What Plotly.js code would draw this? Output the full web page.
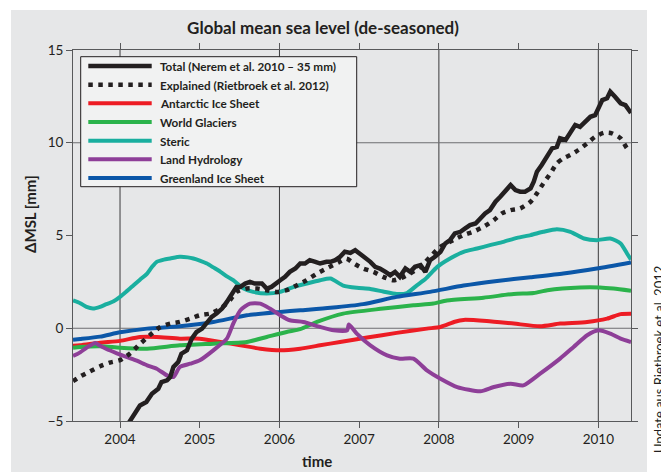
<!DOCTYPE html>
<html>
<head>
<meta charset="utf-8">
<script src="https://cdn.plot.ly/plotly-3.0.1.min.js"></script>
<style>
  html, body { margin: 0; padding: 0; background: #ffffff; }
  #chart { width: 661px; height: 472px; }
</style>
</head>
<body>
<div id="chart"></div>
<script>
// Global mean sea level components, time in decimal years, values in mm.

const totalTime = [2004.05, 2004.13, 2004.19, 2004.25, 2004.33, 2004.40, 2004.48, 2004.52, 2004.59, 2004.63,
  2004.67, 2004.73, 2004.77, 2004.84, 2004.90, 2004.96, 2005.03, 2005.09, 2005.15, 2005.21,
  2005.28, 2005.34, 2005.40, 2005.46, 2005.51, 2005.57, 2005.63, 2005.69, 2005.78, 2005.84,
  2005.90, 2005.97, 2006.01, 2006.07, 2006.13, 2006.20, 2006.26, 2006.32, 2006.38, 2006.45,
  2006.51, 2006.59, 2006.64, 2006.70, 2006.76, 2006.82, 2006.89, 2006.95, 2007.01, 2007.08,
  2007.14, 2007.20, 2007.26, 2007.33, 2007.39, 2007.45, 2007.51, 2007.58, 2007.64, 2007.70,
  2007.77, 2007.83, 2007.89, 2007.95, 2008.02, 2008.08, 2008.14, 2008.20, 2008.27, 2008.33,
  2008.39, 2008.46, 2008.52, 2008.58, 2008.64, 2008.71, 2008.77, 2008.83, 2008.90, 2008.96,
  2009.02, 2009.08, 2009.15, 2009.19, 2009.23, 2009.29, 2009.36, 2009.42, 2009.48, 2009.52,
  2009.59, 2009.65, 2009.71, 2009.77, 2009.84, 2009.90, 2009.96, 2010.00, 2010.05, 2010.11,
  2010.15, 2010.21, 2010.28, 2010.34, 2010.41];
const totalMm = [-5.5, -4.95, -4.52, -4.16, -3.98, -3.53, -3.26, -2.90, -2.81, -2.63,
  -2.09, -1.82, -1.37, -1.19, -0.56, -0.20, -0.02, 0.34, 0.61, 0.79,
  1.06, 1.42, 1.78, 2.23, 2.23, 2.41, 2.50, 2.41, 2.41, 2.14,
  2.23, 2.50, 2.59, 2.77, 3.04, 3.22, 3.49, 3.49, 3.67, 3.58,
  3.49, 3.58, 3.58, 3.67, 3.85, 4.12, 4.06, 4.21, 4.03, 3.76,
  3.58, 3.31, 3.22, 3.04, 2.86, 3.04, 2.77, 3.22, 3.04, 3.31,
  3.40, 3.04, 3.67, 3.85, 4.12, 4.57, 4.75, 5.11, 5.20, 5.38,
  5.56, 5.65, 5.92, 6.19, 6.37, 6.82, 7.09, 7.36, 7.72, 7.45,
  7.36, 7.36, 7.54, 7.90, 8.44, 8.80, 9.34, 9.70, 9.78, 10.24,
  10.15, 10.51, 10.96, 10.86, 11.13, 11.40, 11.49, 11.86, 12.30, 12.40,
  12.75, 12.48, 12.13, 12.03, 11.60];

const explainedTime = [2003.41, 2003.50, 2003.62, 2003.75, 2003.87, 2004.00, 2004.13, 2004.25, 2004.38, 2004.50,
  2004.63, 2004.75, 2004.88, 2005.00, 2005.13, 2005.26, 2005.38, 2005.46, 2005.59, 2005.72,
  2005.84, 2005.97, 2006.09, 2006.22, 2006.34, 2006.47, 2006.59, 2006.74, 2006.84, 2006.95,
  2007.05, 2007.18, 2007.30, 2007.43, 2007.51, 2007.64, 2007.77, 2007.89, 2008.02, 2008.18,
  2008.31, 2008.43, 2008.56, 2008.69, 2008.79, 2008.90, 2009.02, 2009.15, 2009.23, 2009.31,
  2009.40, 2009.48, 2009.56, 2009.65, 2009.75, 2009.86, 2009.96, 2010.07, 2010.17, 2010.28,
  2010.36, 2010.41];
const explainedMm = [-2.85, -2.60, -2.33, -2.05, -1.85, -1.72, -1.35, -0.85, -0.35, 0.05,
  0.25, 0.34, 0.52, 0.70, 0.79, 1.06, 1.51, 1.96, 2.14, 2.14,
  2.05, 1.96, 2.05, 2.32, 2.59, 2.95, 3.22, 3.55, 3.75, 3.45,
  3.22, 3.04, 2.77, 2.59, 2.68, 2.95, 3.31, 3.85, 4.39, 4.75,
  5.02, 5.20, 5.47, 5.83, 6.19, 6.37, 6.46, 6.82, 7.27, 7.81,
  8.35, 8.89, 9.16, 9.34, 9.61, 9.97, 10.32, 10.54, 10.51, 10.24,
  9.70, 9.55];

const antarcticTime = [2003.41, 2003.50, 2003.75, 2004.00, 2004.25, 2004.46, 2004.75, 2005.00, 2005.26, 2005.51,
  2005.76, 2006.01, 2006.26, 2006.51, 2006.76, 2007.10, 2007.47, 2007.85, 2008.02, 2008.20,
  2008.31, 2008.60, 2008.94, 2009.27, 2009.52, 2009.86, 2010.11, 2010.28, 2010.41];
const antarcticMm = [-0.95, -0.92, -0.78, -0.68, -0.47, -0.47, -0.56, -0.56, -0.74, -0.92,
  -1.10, -1.19, -1.10, -0.92, -0.74, -0.50, -0.25, -0.02, 0.07, 0.35,
  0.45, 0.39, 0.25, 0.11, 0.25, 0.34, 0.52, 0.76, 0.78];

const glaciersTime = [2003.41, 2003.50, 2003.75, 2004.00, 2004.34, 2004.75, 2005.17, 2005.59, 2005.84, 2006.09,
  2006.26, 2006.47, 2006.80, 2007.30, 2007.68, 2007.93, 2008.10, 2008.56, 2008.94, 2009.19,
  2009.36, 2009.77, 2010.02, 2010.19, 2010.41];
const glaciersMm = [-1.05, -1.01, -0.97, -1.05, -1.10, -0.92, -0.83, -0.74, -0.47, -0.20,
  -0.05, 0.34, 0.79, 1.06, 1.24, 1.33, 1.50, 1.65, 1.85, 1.90,
  2.05, 2.20, 2.20, 2.14, 2.02];

const stericTime = [2003.41, 2003.50, 2003.58, 2003.66, 2003.75, 2003.83, 2003.92, 2004.00, 2004.08, 2004.17,
  2004.25, 2004.34, 2004.40, 2004.46, 2004.55, 2004.63, 2004.75, 2004.85, 2004.92, 2005.00,
  2005.09, 2005.17, 2005.26, 2005.34, 2005.42, 2005.50, 2005.55, 2005.67, 2005.84, 2006.01,
  2006.18, 2006.34, 2006.51, 2006.64, 2006.80, 2006.97, 2007.14, 2007.30, 2007.47, 2007.60,
  2007.72, 2007.83, 2007.98, 2008.14, 2008.31, 2008.48, 2008.64, 2008.81, 2008.98, 2009.15,
  2009.31, 2009.48, 2009.65, 2009.82, 2009.98, 2010.15, 2010.28, 2010.36, 2010.41];
const stericMm = [1.50, 1.35, 1.15, 1.06, 1.15, 1.30, 1.45, 1.69, 1.98, 2.32,
  2.62, 2.95, 3.30, 3.58, 3.70, 3.76, 3.85, 3.82, 3.76, 3.65,
  3.49, 3.28, 3.04, 2.80, 2.59, 2.30, 2.14, 1.96, 1.87, 1.96,
  2.23, 2.41, 2.59, 2.68, 2.30, 2.18, 2.12, 1.98, 1.85, 1.90,
  2.30, 2.65, 3.31, 3.76, 4.12, 4.30, 4.48, 4.66, 4.87, 5.02,
  5.20, 5.34, 5.20, 4.84, 4.75, 4.84, 4.57, 4.03, 3.70];

const hydrologyTime = [2003.41, 2003.50, 2003.58, 2003.69, 2003.75, 2003.83, 2003.96, 2004.08, 2004.21, 2004.34,
  2004.46, 2004.59, 2004.67, 2004.75, 2004.88, 2005.00, 2005.17, 2005.34, 2005.42, 2005.51,
  2005.63, 2005.76, 2005.88, 2006.01, 2006.13, 2006.30, 2006.51, 2006.68, 2006.85, 2006.87,
  2006.97, 2007.14, 2007.35, 2007.51, 2007.68, 2007.85, 2008.02, 2008.23, 2008.52, 2008.69,
  2008.90, 2009.06, 2009.27, 2009.52, 2009.69, 2009.86, 2010.00, 2010.15, 2010.28, 2010.41];
const hydrologyMm = [-1.50, -1.30, -1.05, -0.79, -0.95, -1.12, -1.35, -1.55, -1.75, -2.00,
  -2.18, -2.54, -2.63, -2.09, -1.91, -1.73, -1.19, -0.56, 0.25, 0.97,
  1.33, 1.33, 1.06, 0.70, 0.43, 0.34, 0.07, -0.11, -0.11, 0.20,
  -0.29, -0.92, -1.46, -1.64, -1.64, -2.27, -2.72, -3.17, -3.40, -3.17,
  -2.99, -3.08, -2.45, -1.64, -1.01, -0.38, -0.11, -0.29, -0.56, -0.74];

const greenlandTime = [2003.41, 2003.50, 2003.75, 2004.00, 2004.34, 2004.75, 2005.17, 2005.59, 2006.01, 2006.26,
  2006.64, 2007.05, 2007.47, 2007.89, 2008.31, 2008.73, 2009.15, 2009.56, 2009.98, 2010.41];
const greenlandMm = [-0.62, -0.58, -0.45, -0.22, -0.02, 0.11, 0.34, 0.70, 0.88, 0.97,
  1.10, 1.30, 1.69, 1.96, 2.30, 2.55, 2.75, 2.95, 3.22, 3.55];

const legendLabels = [
  'Total (Nerem et al. 2010 \u2013 35 mm)',
  'Explained (Rietbroek et al. 2012)',
  'Antarctic Ice Sheet',
  'World Glaciers',
  'Steric',
  'Land Hydrology',
  'Greenland Ice Sheet'
];

const xRange = [2003.41, 2010.41];
const yRange = [-5, 15];
const gridYears = [2004, 2006, 2008, 2010];
const gridLevels = [0, 10];

// Line styles, in the same order as legendLabels
const styles = [
  { color: '#231f20', width: 4.5, dash: 'solid', shape: 'linear' },
  { color: '#231f20', width: 4.5, dash: '4.5px,5.5px', shape: 'spline' },
  { color: '#ed1c24', width: 4, dash: 'solid', shape: 'spline' },
  { color: '#2bb34b', width: 4, dash: 'solid', shape: 'spline' },
  { color: '#1aaf9f', width: 4, dash: 'solid', shape: 'spline' },
  { color: '#8e3f98', width: 4, dash: 'solid', shape: 'spline' },
  { color: '#0b57a8', width: 4, dash: 'solid', shape: 'spline' }
];

const seriesX = [totalTime, explainedTime, antarcticTime, glaciersTime, stericTime, hydrologyTime, greenlandTime];
const seriesY = [totalMm, explainedMm, antarcticMm, glaciersMm, stericMm, hydrologyMm, greenlandMm];

// Draw the components first, then the explained and total curves on top
const drawOrder = [2, 3, 4, 6, 5, 1, 0];
const traces = drawOrder.map(i => ({
  type: 'scatter',
  mode: 'lines',
  name: legendLabels[i],
  x: seriesX[i],
  y: seriesY[i],
  line: { color: styles[i].color, width: styles[i].width, dash: styles[i].dash,
          shape: styles[i].shape, smoothing: 0.6 },
  hoverinfo: 'x+y+name'
}));

// Plot frame in pixels
const L = 73, R = 631, T = 50, B = 421;
const fx = px => (px - L) / (R - L);
const fy = py => (B - py) / (B - T);

const ink = '#231f20';
const font = 'Lato, "Open Sans", sans-serif';

const shapes = [];
// light grey page panel behind the plot
shapes.push({ type: 'rect', xref: 'paper', yref: 'paper', layer: 'below',
  x0: fx(11), x1: fx(647), y0: fy(480), y1: fy(10),
  fillcolor: '#e6e7e8', line: { width: 0 } });
// grid lines every second tick
gridYears.forEach(yr => shapes.push({ type: 'line', xref: 'x', yref: 'y', layer: 'below',
  x0: yr, x1: yr, y0: yRange[0], y1: yRange[1], line: { color: '#3a3a3c', width: 1 } }));
gridLevels.forEach(v => shapes.push({ type: 'line', xref: 'x', yref: 'y', layer: 'below',
  x0: xRange[0], x1: xRange[1], y0: v, y1: v, line: { color: '#6d6e71', width: 1 } }));

// legend box
const legBox = { x0: 80.7, x1: 356.7, y0: 56.7, y1: 186.7 };
shapes.push({ type: 'rect', xref: 'paper', yref: 'paper', layer: 'above',
  x0: fx(legBox.x0), x1: fx(legBox.x1), y0: fy(legBox.y1), y1: fy(legBox.y0),
  fillcolor: '#f1f2f2', line: { color: ink, width: 1 } });

const annotations = [];
const rowTop = 66, rowStep = 18.67;
legendLabels.forEach((label, i) => {
  const ry = rowTop + i * rowStep;
  shapes.push({ type: 'line', xref: 'paper', yref: 'paper', layer: 'above',
    x0: fx(88.3), x1: fx(151.7), y0: fy(ry), y1: fy(ry),
    line: { color: styles[i].color, width: styles[i].width, dash: styles[i].dash } });
  annotations.push({ xref: 'paper', yref: 'paper', x: fx(158), y: fy(ry),
    xanchor: 'left', yanchor: 'middle', showarrow: false, text: label,
    font: { family: font, size: 11.7, color: ink, weight: 700 } });
});

// axis titles
annotations.push({ xref: 'paper', yref: 'paper', x: fx(316.5), y: fy(461),
  xanchor: 'center', yanchor: 'middle', showarrow: false, text: 'time',
  font: { family: font, size: 15, color: ink, weight: 700 } });
annotations.push({ xref: 'paper', yref: 'paper', x: fx(30), y: fy(214),
  xanchor: 'center', yanchor: 'middle', showarrow: false, text: '\u0394MSL [mm]', textangle: -90,
  font: { family: font, size: 15, color: ink, weight: 700 } });
// source note along the right edge
annotations.push({ xref: 'paper', yref: 'paper', x: fx(659), y: fy(360),
  xanchor: 'center', yanchor: 'middle', showarrow: false, textangle: -90,
  text: 'Update aus Rietbroek et al. 2012',
  font: { family: font, size: 13, color: ink } });

const axisCommon = {
  showline: true, linecolor: '#58595b', linewidth: 1, mirror: 'ticks',
  ticks: 'outside', ticklen: 6, tickwidth: 1, tickcolor: '#58595b',
  showgrid: false, zeroline: false,
  tickfont: { family: font, size: 13.5, color: ink }
};

const layout = {
  width: 661, height: 472,
  margin: { l: L, r: 661 - R, t: T, b: 472 - B, pad: 0 },
  paper_bgcolor: '#ffffff',
  plot_bgcolor: '#ffffff',
  showlegend: false,
  title: { text: 'Global mean sea level (de-seasoned)', xref: 'container', yref: 'container',
    x: 323 / 661, y: 1 - 28.5 / 472, xanchor: 'center', yanchor: 'middle',
    font: { family: font, size: 17, color: ink, weight: 700 } },
  xaxis: Object.assign({}, axisCommon, { range: xRange, dtick: 1, tick0: 2004 }),
  yaxis: Object.assign({}, axisCommon, { range: yRange, dtick: 5, tick0: 0 }),
  shapes: shapes,
  annotations: annotations
};

Plotly.newPlot('chart', traces, layout, { displayModeBar: false, responsive: false });
</script>
</body>
</html>
